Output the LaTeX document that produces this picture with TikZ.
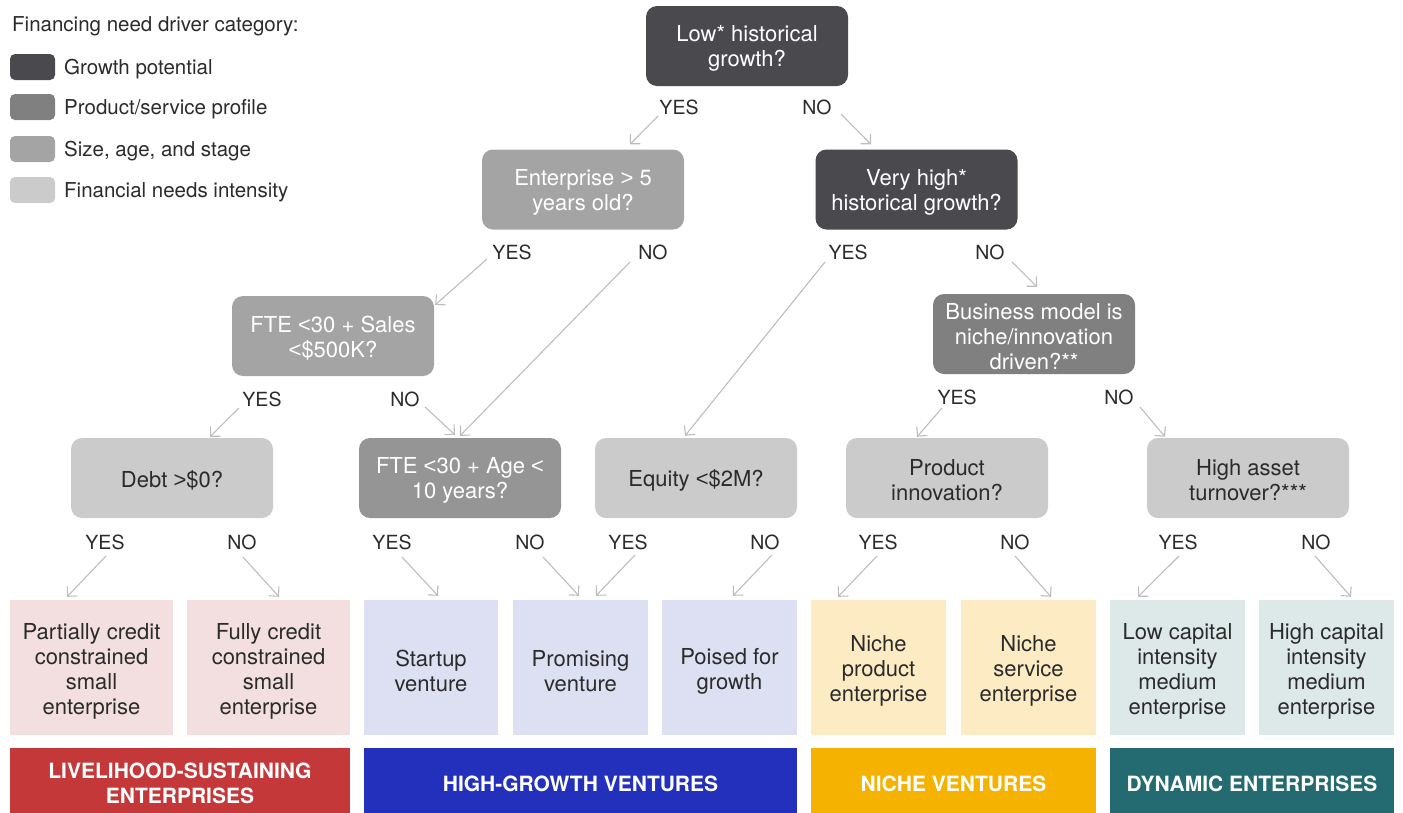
\documentclass[tikz,border=0pt]{standalone}
\usepackage{fontspec}
\setmainfont{TeX Gyre Heros}
\newfontfamily\cmpfont{Liberation Sans}
\newcommand\LT{{\cmpfont<}}
\newcommand\GT{{\cmpfont>}}
\usetikzlibrary{arrows.meta}
\definecolor{cDark}{HTML}{4A494E}
\definecolor{cProd}{HTML}{808081}
\definecolor{cSize}{HTML}{A4A4A5}
\definecolor{cAge}{HTML}{959596}
\definecolor{cFin}{HTML}{CBCBCC}
\definecolor{cTxt}{HTML}{2B2B2B}
\definecolor{cArr}{HTML}{BDBDBD}
\definecolor{cPink}{HTML}{F3DFDF}
\definecolor{cLav}{HTML}{DDDFF3}
\definecolor{cYel}{HTML}{FDEBC4}
\definecolor{cTeal}{HTML}{DDE9E9}
\definecolor{bRed}{HTML}{C5383A}
\definecolor{bBlue}{HTML}{2230BB}
\definecolor{bOrange}{HTML}{F5B200}
\definecolor{bTeal}{HTML}{236B70}
\begin{document}
\begin{tikzpicture}[x=1pt,y=-1pt,
  qbox/.style={rounded corners=11pt, minimum width=202pt, minimum height=80pt, inner sep=0pt},
  qlab/.style={align=center, inner sep=0pt, yshift=-2.5pt, font=\fontsize{22}{25}\selectfont},
  wlab/.style={qlab, text=white},
  blab/.style={qlab, text=cTxt},
  leafbox/.style={minimum height=135pt, inner sep=0pt},
  llab/.style={align=center, inner sep=0pt, yshift=-3.5pt, text=cTxt, font=\fontsize{22}{25}\selectfont},
  bar/.style={minimum height=71pt, inner sep=0pt, align=center, text=white,
    font=\fontsize{21}{25}\selectfont\bfseries},
  yn/.style={inner sep=0pt, text=cTxt, font=\fontsize{19.5}{22}\selectfont},
  swatch/.style={rounded corners=5pt, minimum width=45pt, minimum height=26pt, inner sep=0pt},
  legtxt/.style={anchor=base west, inner sep=0pt, text=cTxt, font=\fontsize{20.5}{24}\selectfont},
  arr/.style={draw=cArr, line width=1.1pt, -{Straight Barb[length=7pt,width=14pt,line width=1.1pt]}}
]
\useasboundingbox (0,0) rectangle (1403,812);

% Legend
\node[legtxt] (legtitle) at (12,31.5) {Financing need driver category:};
\node[swatch, fill=cDark] (sw1) at (32.5,67) {};
\node[swatch, fill=cProd] (sw2) at (32.5,107) {};
\node[swatch, fill=cSize] (sw3) at (32.5,149) {};
\node[swatch, fill=cFin] (sw4) at (32.5,190) {};
\node[legtxt] (lg1) at (64,74.5) {Growth potential};
\node[legtxt] (lg2) at (64,114.5) {Product/service profile};
\node[legtxt] (lg3) at (64,156.5) {Size, age, and stage};
\node[legtxt] (lg4) at (64,197.5) {Financial needs intensity};

% Decision boxes
\node[qbox, fill=cDark, label={[wlab]center:{Low* historical\\growth?}}] (low) at (747,46) {};
\node[qbox, fill=cSize, label={[wlab]center:{Enterprise \GT\ 5\\years old?}}] (ent) at (583,189.5) {};
\node[qbox, fill=cDark, label={[wlab]center:{Very high*\\historical growth?}}] (vh) at (916.5,189.5) {};
\node[qbox, fill=cSize, label={[wlab]center:{FTE \LT30 + Sales\\\LT\$500K?}}] (fs) at (333,336) {};
\node[qbox, fill=cProd, label={[wlab]center:{Business model is\\niche/innovation\\driven?**}}] (bm) at (1034,334) {};
\node[qbox, fill=cFin, label={[blab]center:{Debt \GT\$0?}}] (debt) at (172,478) {};
\node[qbox, fill=cAge, label={[wlab]center:{FTE \LT30 + Age \LT\\10 years?}}] (fa) at (460,478) {};
\node[qbox, fill=cFin, label={[blab]center:{Equity \LT\$2M?}}] (eq) at (696,478) {};
\node[qbox, fill=cFin, label={[blab]center:{Product\\innovation?}}] (pi) at (947,478) {};
\node[qbox, fill=cFin, label={[blab]center:{High asset\\turnover?***}}] (ha) at (1248,478) {};

% Leaves
\node[leafbox, fill=cPink, minimum width=163pt, label={[llab]center:{Partially credit\\constrained\\small\\enterprise}}] (part) at (91.5,667.5) {};
\node[leafbox, fill=cPink, minimum width=163pt, label={[llab]center:{Fully credit\\constrained\\small\\enterprise}}] (full) at (268.5,667.5) {};
\node[leafbox, fill=cLav, minimum width=134pt, label={[llab]center:{Startup\\venture}}] (start) at (431,667.5) {};
\node[leafbox, fill=cLav, minimum width=135pt, label={[llab]center:{Promising\\venture}}] (prom) at (580.5,667.5) {};
\node[leafbox, fill=cLav, minimum width=135pt, label={[llab]center:{Poised for\\growth}}] (pois) at (729.5,667.5) {};
\node[leafbox, fill=cYel, minimum width=135pt, label={[llab]center:{Niche\\product\\enterprise}}] (np) at (878.5,667.5) {};
\node[leafbox, fill=cYel, minimum width=135pt, label={[llab]center:{Niche\\service\\enterprise}}] (ns) at (1028.5,667.5) {};
\node[leafbox, fill=cTeal, minimum width=135pt, label={[llab]center:{Low capital\\intensity\\medium\\enterprise}}] (lc) at (1177.5,667.5) {};
\node[leafbox, fill=cTeal, minimum width=135pt, label={[llab]center:{High capital\\intensity\\medium\\enterprise}}] (hc) at (1326.5,667.5) {};

% Bars
\node[bar, fill=bRed, minimum width=340pt] (b1) at (180,783.5) {LIVELIHOOD-SUSTAINING\\ENTERPRISES};
\node[bar, fill=bBlue, minimum width=433pt] (b2) at (580.5,783.5) {HIGH-GROWTH VENTURES};
\node[bar, fill=bOrange, minimum width=285pt] (b3) at (953.5,783.5) {NICHE VENTURES};
\node[bar, fill=bTeal, minimum width=284pt] (b4) at (1252,783.5) {DYNAMIC ENTERPRISES};

% YES/NO labels
\node[yn] (ya) at (679,107) {YES};
\node[yn] (na) at (817,107) {NO};
\node[yn] (yb) at (512,252) {YES};
\node[yn] (nb) at (653,252) {NO};
\node[yn] (yc) at (848,252) {YES};
\node[yn] (nc) at (990,252) {NO};
\node[yn] (yd) at (262,399) {YES};
\node[yn] (nd) at (405,399) {NO};
\node[yn] (ye) at (957,397) {YES};
\node[yn] (ne) at (1119,397) {NO};
\node[yn] (y1) at (105,542) {YES};
\node[yn] (n1) at (242,542) {NO};
\node[yn] (y2) at (392,542) {YES};
\node[yn] (n2) at (530,542) {NO};
\node[yn] (y3) at (628,542) {YES};
\node[yn] (n3) at (765,542) {NO};
\node[yn] (y4) at (878,542) {YES};
\node[yn] (n4) at (1015,542) {NO};
\node[yn] (y5) at (1178,542) {YES};
\node[yn] (n5) at (1316,542) {NO};

% Arrows upper levels
\draw[arr] ([shift={(-21,9)}]ya.center) -- ([shift={(47,-5)}]ent.north);
\draw[arr] ([shift={(24,7)}]na.center) -- ([shift={(-45.5,-5)}]vh.north);
\draw[arr] ([shift={(-25,7)}]yb.center) -- ([shift={(1,9)}]fs.north east);
\draw[arr] ([shift={(-23,10)}]nb.center) -- ([shift={(0,-2)}]fa.north);
\draw[arr] ([shift={(-23,10)}]yc.center) -- ([shift={(-11,-2)}]eq.north);
\draw[arr] ([shift={(22,10)}]nc.center) -- ([shift={(3,-7)}]bm.north);
\draw[arr] ([shift={(-23,9)}]yd.center) -- ([shift={(38,-1)}]debt.north);
\draw[arr] ([shift={(20,8)}]nd.center) -- ([shift={(-5,-3)}]fa.north);
\draw[arr] ([shift={(-15,11)}]ye.center) -- ([shift={(-30,-1)}]pi.north);
\draw[arr] ([shift={(21,10)}]ne.center) -- ([shift={(-83,-1)}]ha.north);

% Arrows to leaves
\draw[arr] ([shift={(1,14)}]y1.center) -- ([shift={(-24.5,-3)}]part.north);
\draw[arr] ([shift={(1,15)}]n1.center) -- ([shift={(10.5,-3)}]full.north);
\draw[arr] ([shift={(10,15)}]y2.center) -- ([shift={(7,-4)}]start.north);
\draw[arr] ([shift={(13,15)}]n2.center) -- ([shift={(-1.5,-4)}]prom.north);
\draw[arr] ([shift={(7,13)}]y3.center) -- ([shift={(15.5,-4)}]prom.north);
\draw[arr] ([shift={(7,13)}]n3.center) -- ([shift={(3.5,-4)}]pois.north);
\draw[arr] ([shift={(-1,14)}]y4.center) -- ([shift={(-40.5,-3)}]np.north);
\draw[arr] ([shift={(0,14)}]n4.center) -- ([shift={(22.5,-3)}]ns.north);
\draw[arr] ([shift={(1,14)}]y5.center) -- ([shift={(-39.5,-3)}]lc.north);
\draw[arr] ([shift={(-1,14)}]n5.center) -- ([shift={(24.5,-3)}]hc.north);
\end{tikzpicture}
\end{document}
